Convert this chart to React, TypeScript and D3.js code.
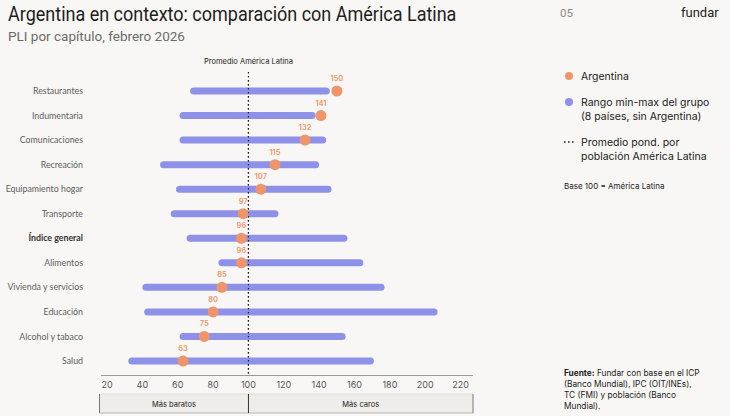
import React from 'react';
import * as d3 from 'd3';

// PLI por capítulo (base 100 = América Latina)
const categories = [
  'Restaurantes',
  'Indumentaria',
  'Comunicaciones',
  'Recreación',
  'Equipamiento hogar',
  'Transporte',
  'Índice general',
  'Alimentos',
  'Vivienda y servicios',
  'Educación',
  'Alcohol y tabaco',
  'Salud',
];
const argentina = [150, 141, 132, 115, 107, 97, 96, 96, 85, 80, 75, 63];
const groupMin = [69, 63, 63, 52, 61, 58, 67, 85, 42, 43, 63, 34];
const groupMax = [144, 136, 142, 138, 145, 115, 154, 163, 175, 205, 153, 169];
const xTicks = [20, 40, 60, 80, 100, 120, 140, 160, 180, 200, 220];
const highlighted = 'Índice general';

const W = 730;
const H = 416;
const ORANGE = '#f0956a';
const PURPLE = '#8d91e8';
const FONT = 'Inter, "Noto Sans", sans-serif';
const LABEL_FONT = 'Lato, Inter, sans-serif';

export default function App() {
  const x = d3.scaleLinear().domain([16.6, 227]).range([101, 473]);
  const y = d3.scalePoint<string>().domain(categories).range([91, 361]);
  const avgX = x(100);

  return (
    <svg width={W} height={H} style={{ position: 'absolute', left: 0, top: 0, background: '#f8f7f5' }}>
      <rect width={W} height={H} fill="#f8f7f5" />

      {/* header */}
      <text
        x={0}
        y={21}
        transform="translate(8,0) scale(0.9,1)"
        fontFamily="Roboto, sans-serif"
        fontSize={20}
        fill="#1e1e1e"
      >
        Argentina en contexto: comparación con América Latina
      </text>
      <text x={8} y={41} fontFamily="Roboto, sans-serif" fontSize={13.5} fill="#6b6b6b">
        PLI por capítulo, febrero 2026
      </text>
      <text x={560} y={17} fontFamily="Roboto, sans-serif" fontSize={11.5} fill="#8a8a8a">05</text>
      <text x={681} y={17} fontFamily="Roboto, sans-serif" fontSize={13} fill="#1e1e1e">fundar</text>

      {/* average reference */}
      <text x={avgX} y={64} textAnchor="middle" fontFamily={FONT} fontSize={7.5} fill="#222">
        Promedio América Latina
      </text>
      <line x1={avgX} x2={avgX} y1={72} y2={375} stroke="#222" strokeWidth={1.2} strokeDasharray="1.5 2.5" />

      {/* row labels */}
      {categories.map((c) => (
        <text
          key={c}
          x={83}
          y={y(c)!}
          dy="0.35em"
          textAnchor="end"
          fontFamily={LABEL_FONT}
          fontSize={8.8}
          fontWeight={c === highlighted ? 700 : 400}
          fill={c === highlighted ? '#333' : '#5e5e5e'}
        >
          {c}
        </text>
      ))}

      {/* min-max ranges */}
      {categories.map((c, i) => (
        <line
          key={c}
          x1={x(groupMin[i])}
          x2={x(groupMax[i])}
          y1={y(c)!}
          y2={y(c)!}
          stroke={PURPLE}
          strokeWidth={7}
          strokeLinecap="round"
        />
      ))}

      {/* dotted line drawn over the bars */}
      <line x1={avgX} x2={avgX} y1={80} y2={375} stroke="#222" strokeWidth={1.2} strokeDasharray="1.5 2.5" />

      {/* Argentina */}
      {categories.map((c, i) => (
        <g key={c}>
          <circle cx={x(argentina[i])} cy={y(c)!} r={5.5} fill={ORANGE} />
          <text
            x={x(argentina[i])}
            y={y(c)! - 10}
            textAnchor="middle"
            fontFamily={FONT}
            fontSize={7.5}
            fontWeight={600}
            fill={ORANGE}
          >
            {argentina[i]}
          </text>
        </g>
      ))}

      {/* x axis */}
      <line x1={101} x2={473} y1={375.5} y2={375.5} stroke="#9a9a9a" strokeWidth={1} />
      {xTicks.map((t) => (
        <text key={t} x={x(t)} y={388} textAnchor="middle" fontFamily={FONT} fontSize={9} fill="#555">
          {t}
        </text>
      ))}

      {/* cheaper / pricier bands */}
      <rect x={99.5} y={394} width={avgX - 99.5} height={19} fill="#eeede9" />
      <rect x={avgX} y={394} width={473 - avgX} height={19} fill="#eeede9" />
      <line x1={99.5} x2={473} y1={394} y2={394} stroke="#dddcd8" />
      <line x1={99.5} x2={473} y1={413} y2={413} stroke="#b8b8b5" />
      <line x1={99.5} x2={99.5} y1={394} y2={413} stroke="#777" />
      <line x1={avgX} x2={avgX} y1={394} y2={413} stroke="#333" />
      <line x1={473} x2={473} y1={394} y2={413} stroke="#777" />
      <text x={(99.5 + avgX) / 2} y={406.5} textAnchor="middle" fontFamily={FONT} fontSize={7.5} fill="#222">
        Más baratos
      </text>
      <text x={(avgX + 473) / 2} y={406.5} textAnchor="middle" fontFamily={FONT} fontSize={7.5} fill="#222">
        Más caros
      </text>

      {/* legend */}
      <g fontFamily={FONT} fontSize={10.5} fill="#222">
        <circle cx={569} cy={76} r={4} fill={ORANGE} />
        <text x={581} y={76} dy="0.35em">Argentina</text>
        <circle cx={569} cy={102} r={4} fill={PURPLE} />
        <text x={581} y={102} dy="0.35em">Rango min-max del grupo</text>
        <text x={581} y={116} dy="0.35em">(8 países, sin Argentina)</text>
        <line x1={564} x2={576} y1={142} y2={142} stroke="#222" strokeWidth={1.6} strokeDasharray="1.6 2.4" />
        <text x={581} y={142} dy="0.35em">Promedio pond. por</text>
        <text x={581} y={156} dy="0.35em">población América Latina</text>
        <text x={564} y={186} dy="0.35em" fontSize={8}>Base 100 = América Latina</text>
      </g>

      {/* source */}
      <g fontFamily={FONT} fontSize={8.3} fill="#222">
        <text x={564} y={376}>
          <tspan fontWeight={700}>Fuente:</tspan> Fundar con base en el ICP
        </text>
        <text x={564} y={387}>(Banco Mundial), IPC (OIT/INEs),</text>
        <text x={564} y={398}>TC (FMI) y población (Banco</text>
        <text x={564} y={409}>Mundial).</text>
      </g>
    </svg>
  );
}
